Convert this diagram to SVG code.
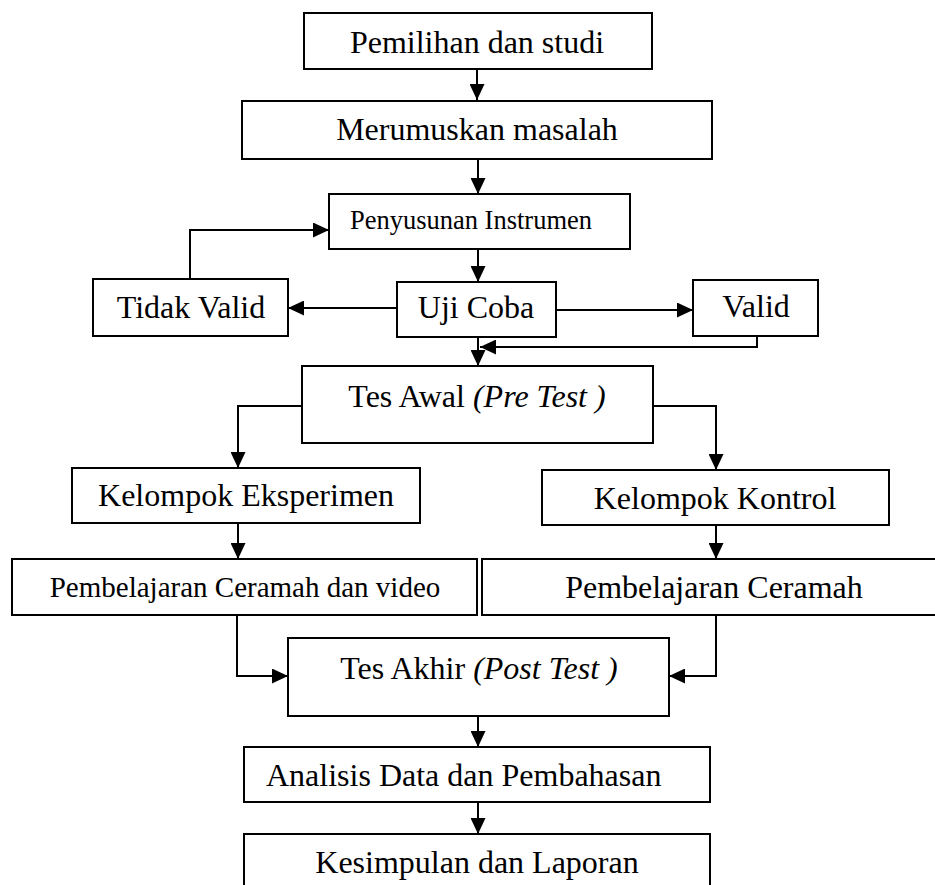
<svg xmlns="http://www.w3.org/2000/svg" width="935" height="885" viewBox="0 0 935 885">
<style>
.box{fill:#fff;stroke:#000;stroke-width:2}
.t{font-family:"Liberation Serif","Times New Roman",serif;font-size:32px;fill:#000;text-anchor:middle}
.i{font-style:italic}
.c{fill:none;stroke:#000;stroke-width:2}
</style>
<defs>
<marker id="ah" markerUnits="userSpaceOnUse" markerWidth="16" markerHeight="15" refX="16" refY="7.5" orient="auto" viewBox="0 0 16 15">
<path d="M0,0 L16,7.5 L0,15 z" fill="#000"/>
</marker>
</defs>
<rect width="935" height="885" fill="#fff"/>
<g id="connectors">
<line class="c" x1="477" y1="69" x2="477" y2="100" marker-end="url(#ah)"/>
<line class="c" x1="478" y1="159" x2="478" y2="194" marker-end="url(#ah)"/>
<line class="c" x1="478" y1="249" x2="478" y2="282" marker-end="url(#ah)"/>
<line class="c" x1="397" y1="308" x2="288" y2="308" marker-end="url(#ah)"/>
<line class="c" x1="556" y1="310" x2="693" y2="310" marker-end="url(#ah)"/>
<polyline class="c" points="190,279 190,230 329,230" marker-end="url(#ah)"/>
<polyline class="c" points="757,336 757,347 480,347" marker-end="url(#ah)"/>
<line class="c" x1="478" y1="337" x2="478" y2="366" marker-end="url(#ah)"/>
<polyline class="c" points="302,406 238,406 238,468" marker-end="url(#ah)"/>
<polyline class="c" points="653,406 716,406 716,470" marker-end="url(#ah)"/>
<line class="c" x1="238" y1="523" x2="238" y2="559" marker-end="url(#ah)"/>
<line class="c" x1="716" y1="525" x2="716" y2="559" marker-end="url(#ah)"/>
<polyline class="c" points="237,615 237,676 288,676" marker-end="url(#ah)"/>
<polyline class="c" points="716,615 716,676 669,676" marker-end="url(#ah)"/>
<line class="c" x1="478" y1="716" x2="478" y2="747" marker-end="url(#ah)"/>
<line class="c" x1="478" y1="802" x2="478" y2="834" marker-end="url(#ah)"/>
</g>
<g id="n1"><rect class="box" x="304" y="13" width="348" height="56"/><text class="t" x="477" y="53">Pemilihan dan studi</text></g>
<g id="n2"><rect class="box" x="242" y="101" width="470" height="58"/><text class="t" x="477" y="140">Merumuskan masalah</text></g>
<g id="n3"><rect class="box" x="329" y="194" width="301" height="55"/><text class="t" x="471" y="229" style="font-size:26.5px">Penyusunan Instrumen</text></g>
<g id="n4"><rect class="box" x="93" y="279" width="195" height="57"/><text class="t" x="191" y="318">Tidak Valid</text></g>
<g id="n5"><rect class="box" x="397" y="282" width="159" height="55"/><text class="t" x="476" y="318">Uji Coba</text></g>
<g id="n6"><rect class="box" x="693" y="280" width="125" height="56"/><text class="t" x="756" y="317">Valid</text></g>
<g id="n7"><rect class="box" x="302" y="366" width="351" height="77"/><text class="t" x="477" y="407">Tes Awal <tspan class="i">(Pre Test )</tspan></text></g>
<g id="n8"><rect class="box" x="72" y="468" width="348" height="55"/><text class="t" x="246" y="506">Kelompok Eksperimen</text></g>
<g id="n9"><rect class="box" x="542" y="470" width="347" height="55"/><text class="t" x="715" y="509">Kelompok Kontrol</text></g>
<g id="n10"><rect class="box" x="12" y="559" width="465" height="56"/><text class="t" x="245" y="597" style="font-size:29px">Pembelajaran Ceramah dan video</text></g>
<g id="n11"><rect class="box" x="482" y="559" width="470" height="56"/><text class="t" x="714" y="598">Pembelajaran Ceramah</text></g>
<g id="n12"><rect class="box" x="288" y="638" width="381" height="78"/><text class="t" x="479" y="679">Tes Akhir <tspan class="i">(Post Test )</tspan></text></g>
<g id="n13"><rect class="box" x="244" y="747" width="466" height="55"/><text class="t" x="266" y="786" style="text-anchor:start">Analisis Data dan Pembahasan</text></g>
<g id="n14"><rect class="box" x="244" y="834" width="466" height="70"/><text class="t" x="477" y="873">Kesimpulan dan Laporan</text></g>
</svg>
